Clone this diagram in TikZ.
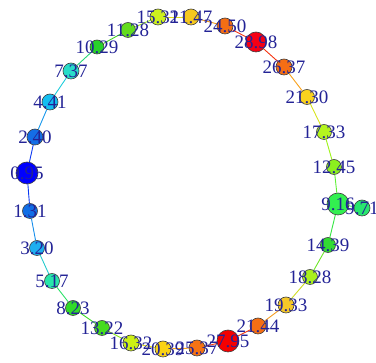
\documentclass[tikz,border=0pt]{standalone}
\usepackage{fontspec}
\setmainfont{Liberation Serif}
\usetikzlibrary{backgrounds}
\definecolor{txt}{RGB}{35,35,150}
\definecolor{c1}{RGB}{0,0,255}
\definecolor{c2}{RGB}{16,110,230}
\definecolor{c3}{RGB}{30,175,240}
\definecolor{c4}{RGB}{40,230,170}
\definecolor{c5}{RGB}{50,220,40}
\definecolor{c6}{RGB}{70,220,30}
\definecolor{c7}{RGB}{205,240,20}
\definecolor{c8}{RGB}{250,210,20}
\definecolor{c9}{RGB}{245,115,20}
\definecolor{c10}{RGB}{245,0,0}
\definecolor{c11}{RGB}{245,110,20}
\definecolor{c12}{RGB}{245,200,40}
\definecolor{c13}{RGB}{170,240,30}
\definecolor{c14}{RGB}{50,220,50}
\definecolor{c15}{RGB}{50,240,80}
\definecolor{c16}{RGB}{40,230,110}
\definecolor{c17}{RGB}{140,240,30}
\definecolor{c18}{RGB}{180,245,30}
\definecolor{c19}{RGB}{250,210,30}
\definecolor{c20}{RGB}{245,110,20}
\definecolor{c21}{RGB}{245,0,20}
\definecolor{c22}{RGB}{245,110,20}
\definecolor{c23}{RGB}{245,200,30}
\definecolor{c24}{RGB}{205,240,30}
\definecolor{c25}{RGB}{100,220,30}
\definecolor{c26}{RGB}{40,210,40}
\definecolor{c27}{RGB}{40,220,200}
\definecolor{c28}{RGB}{20,190,240}
\definecolor{c29}{RGB}{20,110,230}
\begin{document}
\begin{tikzpicture}[x=1pt,y=-1pt,
  vtx/.style={circle, draw=black!75, line width=0.6pt, inner sep=0pt},
  lbl/.style={text=txt, font=\fontsize{19}{19}\selectfont, inner sep=0pt},
  edge/.style={line width=0.9pt}]
\useasboundingbox (0,0) rectangle (376,363);
\foreach \i/\x/\y/\d in {1/27/173/22, 2/30/211/15, 3/37/248/15, 4/52/281/15,
  5/73/308/15, 6/102/328/15, 7/131/343/16, 8/163/349/16, 9/197/348/16,
  10/228/341/22, 11/258/326/16, 12/286/305/16, 13/310/277/15, 14/328/245/15,
  15/338/204/22, 16/362/208/16, 17/334/167/15, 18/324/132/15, 19/307/97/15,
  20/284/67/16, 21/256/42/20, 22/225/26/16, 23/191/17/16, 24/158/17/16,
  25/128/30/15, 26/97/47/14, 27/71/71/16, 28/50/102/16, 29/35/137/16}
  {\node[vtx, fill=c\i, minimum size=\d pt] (n\i) at (\x,\y) {};}
\foreach \i/\lab in {1/0.95, 2/1.31, 3/3.20, 4/5.17, 5/8.23, 6/13.22, 7/16.32,
  8/20.39, 9/25.37, 10/27.95, 11/21.44, 12/19.33, 13/18.28, 14/14.39,
  15/9.16, 16/9.71, 17/12.45, 18/17.33, 19/21.30, 20/26.37, 21/28.98,
  22/24.50, 23/21.47, 24/15.31, 25/11.28, 26/10.29, 27/7.37, 28/4.41, 29/2.40}
  {\node[lbl] (l\i) at (n\i) {\lab};}
\begin{pgfonlayer}{background}
\foreach \a/\b in {1/2, 2/3, 3/4, 4/5, 5/6, 6/7, 7/8, 8/9, 9/10, 10/11, 11/12,
  12/13, 13/14, 14/15, 15/16, 15/17, 17/18, 18/19, 19/20, 20/21, 21/22, 22/23,
  23/24, 24/25, 25/26, 26/27, 27/28, 28/29, 29/1}
  {\draw[edge, draw=c\a!50!c\b] (n\a) -- (n\b);}
\end{pgfonlayer}
\end{tikzpicture}
\end{document}
